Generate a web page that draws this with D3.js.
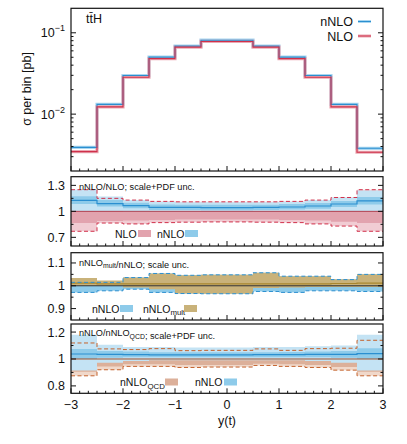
<!DOCTYPE html>
<meta charset='utf-8'>
<style>
  body { margin: 0; background: #fff; }
  text { font-family: 'Liberation Sans', Arial, sans-serif; fill: #111; }
  .frame { fill: none; stroke: #111; stroke-width: 1.2; }
  .tk { stroke: #111; stroke-width: 1; }
</style>
<body>
<script src='https://d3js.org/d3.v7.min.js'></script>
<script>
  // bin edges in y(t)
  const edges = [-3, -2.5, -2, -1.5, -1, -0.5, 0, 0.5, 1, 1.5, 2, 2.5, 3]
  const xTicks = [-3, -2, -1, 0, 1, 2, 3]

  // main panel: sigma per bin [pb]
  const nnlo = [0.0039, 0.0132, 0.0298, 0.0502, 0.0686, 0.0811, 0.0811, 0.0686, 0.0502, 0.0298, 0.0132, 0.0038]
  const nlo  = [0.00346, 0.01228, 0.0284, 0.0481, 0.0667, 0.0783, 0.0783, 0.0667, 0.0481, 0.0284, 0.01228, 0.0034]

  // panel 2: nNLO/NLO, scale+PDF
  const r2NloLo     = [0.77, 0.865, 0.855, 0.87, 0.875, 0.878, 0.878, 0.875, 0.87, 0.855, 0.83, 0.77]
  const r2NloHi     = [1.25, 1.15, 1.13, 1.115, 1.11, 1.11, 1.11, 1.11, 1.115, 1.13, 1.16, 1.25]
  const r2NloScLo   = [0.865, 0.89, 0.895, 0.9, 0.905, 0.905, 0.905, 0.905, 0.9, 0.895, 0.88, 0.865]
  const r2NloScHi   = [1.12, 1.08, 1.07, 1.06, 1.06, 1.06, 1.06, 1.06, 1.06, 1.07, 1.08, 1.12]
  const r2Nnlo      = [1.127, 1.09, 1.066, 1.046, 1.045, 1.043, 1.043, 1.045, 1.05, 1.062, 1.085, 1.12]
  const r2NnloLo    = [1.0, 1.0, 0.995, 0.995, 0.995, 0.995, 0.995, 0.995, 0.995, 0.995, 1.0, 1.0]
  const r2NnloHi    = [1.25, 1.17, 1.13, 1.11, 1.105, 1.105, 1.105, 1.105, 1.11, 1.13, 1.16, 1.24]
  const r2NnloScLo  = [1.085, 1.055, 1.035, 1.015, 1.015, 1.013, 1.013, 1.015, 1.02, 1.03, 1.05, 1.08]
  const r2NnloScHi  = [1.175, 1.13, 1.1, 1.08, 1.075, 1.075, 1.075, 1.075, 1.085, 1.095, 1.12, 1.165]

  // panel 3: nNLO_mult/nNLO, scale
  const r3NnloLo = [0.971, 0.978, 0.985, 0.971, 0.966, 0.965, 0.965, 0.975, 0.971, 0.978, 0.978, 0.975]
  const r3NnloHi = [1.015, 1.015, 1.036, 1.054, 1.046, 1.048, 1.048, 1.057, 1.042, 1.042, 1.027, 1.05]
  const r3Mult   = [1.012, 1.008, 1.008, 1.008, 1.008, 1.008, 1.008, 1.008, 1.008, 1.008, 1.01, 1.012]
  const r3MultLo = [1.0, 1.0, 0.992, 0.985, 0.966, 0.965, 0.965, 0.99, 0.992, 0.995, 0.995, 0.995]
  const r3MultHi = [1.034, 1.023, 1.036, 1.054, 1.046, 1.048, 1.048, 1.057, 1.042, 1.042, 1.029, 1.05]

  // panel 4: nNLO/nNLO_QCD, scale+PDF
  const r4QcdLo    = [0.875, 0.92, 0.945, 0.945, 0.937, 0.94, 0.94, 0.952, 0.945, 0.937, 0.917, 0.875]
  const r4QcdHi    = [1.119, 1.075, 1.07, 1.077, 1.062, 1.064, 1.064, 1.075, 1.064, 1.077, 1.08, 1.139]
  const r4QcdScLo  = [0.905, 0.945, 0.96, 0.96, 0.955, 0.955, 0.955, 0.965, 0.96, 0.955, 0.94, 0.905]
  const r4Nnlo     = [1.037, 1.035, 1.033, 1.03, 1.03, 1.03, 1.03, 1.032, 1.033, 1.035, 1.035, 1.04]
  const r4NnloLo   = [0.915, 0.972, 0.985, 0.99, 0.99, 0.99, 0.99, 0.99, 0.99, 0.985, 0.972, 0.915]
  const r4NnloHi   = [1.18, 1.105, 1.09, 1.09, 1.085, 1.085, 1.085, 1.09, 1.09, 1.095, 1.1, 1.18]
  const r4NnloScLo = [1.0, 1.01, 1.012, 1.012, 1.012, 1.012, 1.012, 1.012, 1.012, 1.012, 1.01, 1.0]
  const r4NnloScHi = [1.075, 1.06, 1.055, 1.05, 1.05, 1.05, 1.05, 1.05, 1.052, 1.055, 1.06, 1.08]

  const col = {
    blue: '#2b8fd0', blueLight: '#c4e3f4', blueMid: '#8ecbea', blueTop: '#a9d6f0',
    red: '#d0304a', redLight: '#f1ccd3', redMid: '#e2a3ae', redTop: '#e9a8b3',
    tan: '#c9b27a', tanLine: '#a8862e',
    brown: '#c4622c', brownLight: '#f0d8ca', brownMid: '#dcb09a'
  }

  const svg = d3.select('body').append('svg')
    .attr('width', 407).attr('height', 444)

  const x = d3.scaleLinear().domain([-3, 3]).range([71, 383])

  const panels = [
    {y: d3.scaleLog().domain([0.002, 0.2]).range([171, 8.3]), major: [0.01, 0.1]},
    {y: d3.scaleLinear().domain([0.6, 1.4]).range([246, 176.7]), major: [0.7, 1, 1.3], minor: [0.85, 1.15]},
    {y: d3.scaleLinear().domain([0.85, 1.145]).range([320, 252.7]), major: [0.9, 1, 1.1], minor: [0.95, 1.05]},
    {y: d3.scaleLinear().domain([0.745, 1.26]).range([393.3, 324]), major: [0.8, 1, 1.2], minor: [0.9, 1.1]}
  ]

  const steps = vals => edges.map((e, i) => ({x: e, v: vals[Math.min(i, vals.length - 1)]}))
  const band = (lo, hi) => edges.map((e, i) => {
    const j = Math.min(i, lo.length - 1)
    return {x: e, lo: lo[j], hi: hi[j]}
  })

  function drawBand(g, y, lo, hi, fill) {
    const area = d3.area().curve(d3.curveStepAfter)
      .x(d => x(d.x)).y0(d => y(d.lo)).y1(d => y(d.hi))
    g.append('path').attr('d', area(band(lo, hi))).attr('fill', fill)
  }
  function drawLine(g, y, vals, stroke, width, dash) {
    const line = d3.line().curve(d3.curveStepAfter).x(d => x(d.x)).y(d => y(d.v))
    g.append('path').attr('d', line(steps(vals)))
      .attr('fill', 'none').attr('stroke', stroke).attr('stroke-width', width)
      .attr('stroke-dasharray', dash || null)
  }
  function flat(v) { return edges.slice(0, -1).map(() => v) }

  // ---- main panel
  const g0 = svg.append('g')
  const y0 = panels[0].y
  drawLine(g0, y0, nnlo, col.blueTop, 3.2)
  drawLine(g0, y0, nlo, col.redTop, 3.2)
  drawLine(g0, y0, nnlo, col.blue, 1.1)
  drawLine(g0, y0, nlo, col.red, 1.1)

  // ---- panel 2
  const g1 = svg.append('g')
  const y1 = panels[1].y
  drawBand(g1, y1, r2NloLo, r2NloHi, col.redLight)
  drawBand(g1, y1, r2NloScLo, r2NloScHi, col.redMid)
  drawBand(g1, y1, r2NnloLo, r2NnloHi, col.blueLight)
  drawBand(g1, y1, r2NnloScLo, r2NnloScHi, col.blueMid)
  drawLine(g1, y1, flat(1), '#b04050', 1)
  drawLine(g1, y1, r2Nnlo, col.blue, 1.2)
  drawLine(g1, y1, r2NloLo, col.red, 1, '4,2.5')
  drawLine(g1, y1, r2NloHi, col.red, 1, '4,2.5')

  // ---- panel 3
  const g2 = svg.append('g')
  const y2 = panels[2].y
  drawBand(g2, y2, r3NnloLo, r3NnloHi, col.blueMid)
  drawBand(g2, y2, r3MultLo, r3MultHi, col.tan)
  drawLine(g2, y2, flat(1), '#333', 1)
  drawLine(g2, y2, r3Mult, col.tanLine, 1.2)
  drawLine(g2, y2, r3NnloLo, col.blue, 1, '4,2.5')
  drawLine(g2, y2, r3NnloHi, col.blue, 1, '4,2.5')

  // ---- panel 4
  const g3 = svg.append('g')
  const y3 = panels[3].y
  drawBand(g3, y3, r4QcdLo, r4QcdHi, col.brownLight)
  drawBand(g3, y3, r4QcdScLo, r4QcdHi, col.brownMid)
  drawBand(g3, y3, r4NnloLo, r4NnloHi, col.blueLight)
  drawBand(g3, y3, r4NnloScLo, r4NnloScHi, col.blueMid)
  drawLine(g3, y3, flat(1), '#a0522d', 1)
  drawLine(g3, y3, r4Nnlo, col.blue, 1.2)
  drawLine(g3, y3, r4QcdLo, col.brown, 1, '4,2.5')
  drawLine(g3, y3, r4QcdHi, col.brown, 1, '4,2.5')

  // ---- frames and ticks
  const xMinor = d3.range(-3, 3.001, 1 / 6)
  panels.forEach((p, i) => {
    const [yb, yt] = p.y.range()
    const g = svg.append('g')
    g.append('rect').attr('class', 'frame')
      .attr('x', 71).attr('y', yt).attr('width', 312).attr('height', yb - yt)
    xMinor.forEach(v => {
      const len = xTicks.some(t => Math.abs(t - v) < 1e-6) ? 5 : 2.5
      g.append('line').attr('class', 'tk')
        .attr('x1', x(v)).attr('x2', x(v)).attr('y1', yb).attr('y2', yb - len)
    })
    let minor = p.minor || []
    if (i === 0) {
      minor = []
      ;[0.001, 0.01, 0.1].forEach(d => d3.range(2, 10).forEach(k => {
        const v = d * k
        if (v > 0.002 && v < 0.2) minor.push(v)
      }))
    }
    const yt2 = v => p.y(v)
    p.major.forEach(v => {
      g.append('line').attr('class', 'tk').attr('x1', 71).attr('x2', 76).attr('y1', yt2(v)).attr('y2', yt2(v))
      g.append('line').attr('class', 'tk').attr('x1', 383).attr('x2', 378).attr('y1', yt2(v)).attr('y2', yt2(v))
    })
    minor.forEach(v => {
      g.append('line').attr('class', 'tk').attr('x1', 71).attr('x2', 73.5).attr('y1', yt2(v)).attr('y2', yt2(v))
      g.append('line').attr('class', 'tk').attr('x1', 383).attr('x2', 380.5).attr('y1', yt2(v)).attr('y2', yt2(v))
    })
    // tick labels
    p.major.forEach(v => {
      const t = g.append('text').attr('x', 65).attr('y', yt2(v) + 4.5)
        .attr('text-anchor', 'end').attr('font-size', 12.5)
      if (i === 0) {
        t.text('10')
        t.append('tspan').attr('dy', -6).attr('font-size', 9).text('\u2212' + Math.round(-Math.log10(v)))
      } else {
        t.text(d3.format('~g')(v))
      }
    })
  })

  // x tick labels
  xTicks.forEach(v => {
    svg.append('text').attr('x', x(v)).attr('y', 409).attr('text-anchor', 'middle')
      .attr('font-size', 12.5).text(v < 0 ? '\u2212' + (-v) : v)
  })
  svg.append('text').attr('x', x(0)).attr('y', 425).attr('text-anchor', 'middle')
    .attr('font-size', 12.5).text('y(t)')

  // y label
  svg.append('text').attr('transform', 'translate(31,89) rotate(-90)')
    .attr('text-anchor', 'middle').attr('font-size', 12.5).text('\u03c3 per bin [pb]')

  // process label
  svg.append('text').attr('x', 86).attr('y', 23).attr('font-size', 12.5).text('tt\u0304H')

  // main legend
  const legMain = [['nNLO', col.blue, col.blueTop, 21.5], ['NLO', col.red, col.redTop, 36]]
  legMain.forEach(([name, c, cl, yy]) => {
    svg.append('text').attr('x', 353).attr('y', yy + 4.5).attr('text-anchor', 'end')
      .attr('font-size', 12.5).text(name)
    svg.append('line').attr('x1', 358).attr('x2', 371).attr('y1', yy).attr('y2', yy)
      .attr('stroke', cl).attr('stroke-width', 3)
    svg.append('line').attr('x1', 358).attr('x2', 371).attr('y1', yy).attr('y2', yy)
      .attr('stroke', c).attr('stroke-width', 1)
  })

  // panel titles
  function label(xx, yy, parts, size) {
    const t = svg.append('text').attr('x', xx).attr('y', yy).attr('font-size', size)
    parts.forEach(([s, sub]) => {
      if (sub) {
        t.append('tspan').attr('dy', 2.5).attr('font-size', size * 0.75).text(s)
        t.append('tspan').attr('dy', -2.5).text('')
      } else {
        t.append('tspan').text(s)
      }
    })
    return t
  }
  label(79, 189.5, [['nNLO/NLO; scale+PDF unc.']], 9.2)
  label(79, 265.5, [['nNLO'], ['mult', 1], ['/nNLO; scale unc.']], 9.2)
  label(79, 336, [['nNLO/nNLO'], ['QCD', 1], ['; scale+PDF unc.']], 9.2)

  // panel legends
  function swatch(xx, yy, fill) {
    svg.append('rect').attr('x', xx).attr('y', yy - 3.5).attr('width', 13).attr('height', 7).attr('fill', fill)
  }
  label(115, 237.5, [['NLO']], 10.5); swatch(138, 233.5, col.redMid)
  label(157, 237.5, [['nNLO']], 10.5); swatch(185, 233.5, col.blueMid)

  label(92, 312.5, [['nNLO']], 10.5); swatch(120, 308.5, col.blueMid)
  label(143, 312.5, [['nNLO'], ['mult', 1]], 10.5); swatch(184, 308.5, col.tan)

  label(120, 386, [['nNLO'], ['QCD', 1]], 10.5); swatch(165, 382, col.brownMid)
  label(195, 386, [['nNLO']], 10.5); swatch(224, 382, col.blueMid)
</script>
</body>
